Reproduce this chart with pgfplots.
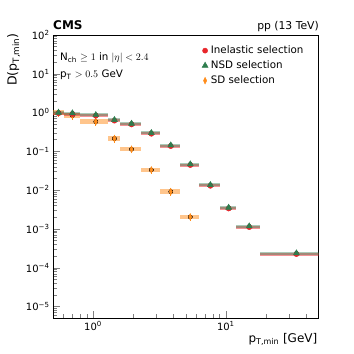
\documentclass[border=0pt]{standalone}
\usepackage{fontspec}
\setmainfont{DejaVu Sans}
\usepackage{pgfplots}
\usepackage{pgfplotstable}
\pgfplotsset{compat=1.18}
\definecolor{cinel}{HTML}{E8262B}
\definecolor{cnsd}{HTML}{2E7D4E}
\definecolor{csd}{HTML}{FF8C1A}

\pgfplotstableread{
x     xm    xp    y
0.55  0.05  0.05  1.0
0.70  0.10  0.10  0.965
1.05  0.25  0.25  0.87
1.45  0.15  0.15  0.65
1.95  0.35  0.35  0.52
2.75  0.45  0.45  0.30
3.85  0.65  0.65  0.144
5.40  0.90  0.90  0.0468
7.65  1.35  1.35  0.0137
10.5  1.50  1.50  0.00356
15.0  3.00  3.00  0.00118
34.0  16.0  16.0  0.000238
}\nsd

\pgfplotstableread{
x     xm    xp    y
0.55  0.05  0.05  0.96
0.70  0.10  0.10  0.92
1.05  0.25  0.25  0.83
1.45  0.15  0.15  0.62
1.95  0.35  0.35  0.495
2.75  0.45  0.45  0.285
3.85  0.65  0.65  0.137
5.40  0.90  0.90  0.0445
7.65  1.35  1.35  0.0130
10.5  1.50  1.50  0.00338
15.0  3.00  3.00  0.00112
34.0  16.0  16.0  0.000226
}\inel

\pgfplotstableread{
x     xm    xp    y
0.55  0.05  0.05  1.0
0.70  0.10  0.10  0.84
1.05  0.25  0.25  0.585
1.45  0.15  0.15  0.214
1.95  0.35  0.35  0.114
2.75  0.45  0.45  0.0334
3.85  0.65  0.65  0.0092
5.40  0.90  0.90  0.00205
}\sd

\begin{document}
\begin{tikzpicture}
\path[use as bounding box] (0pt,0pt) rectangle (354pt,354pt);
\begin{axis}[
  at={(53pt,36pt)}, anchor=south west,
  scale only axis, width=265.7pt, height=283pt,
  xmode=log, ymode=log,
  xmin=0.5, xmax=50, ymin=5.1e-6, ymax=100,
  axis line style={black, line width=0.6pt},
  tick style={gray, line width=0.6pt},
  major tick length=7pt, minor tick length=4pt,
  tick align=inside,
  xtick pos=bottom, ytick pos=left,
  xtick={1,10},
  xticklabels={10\textsuperscript{0},10\textsuperscript{1}},
  minor xtick={0.5,0.6,0.7,0.8,0.9,2,3,4,5,6,7,8,9,20,30,40,50},
  ytick={1e-5,1e-4,1e-3,1e-2,1e-1,1,10,100},
  yticklabels={10\textsuperscript{−5},10\textsuperscript{−4},10\textsuperscript{−3},10\textsuperscript{−2},10\textsuperscript{−1},10\textsuperscript{0},10\textsuperscript{1},10\textsuperscript{2}},
  minor ytick={2e-6,3e-6,4e-6,5e-6,6e-6,7e-6,8e-6,9e-6,
    2e-5,3e-5,4e-5,5e-5,6e-5,7e-5,8e-5,9e-5,
    2e-4,3e-4,4e-4,5e-4,6e-4,7e-4,8e-4,9e-4,
    2e-3,3e-3,4e-3,5e-3,6e-3,7e-3,8e-3,9e-3,
    2e-2,3e-2,4e-2,5e-2,6e-2,7e-2,8e-2,9e-2,
    0.2,0.3,0.4,0.5,0.6,0.7,0.8,0.9,2,3,4,5,6,7,8,9,20,30,40,50,60,70,80,90},
  ticklabel style={font=\fontsize{10}{12}\selectfont},
  legend style={at={(rel axis cs:0.549,0.979)}, anchor=north west, draw=none, fill=none,
    font=\fontsize{10.3}{12}\selectfont, row sep=0pt,
    nodes={text height=7.5pt, text depth=2pt, inner sep=2.75pt}},
  legend cell align=left,
]
% SD bars
\addplot[only marks, mark=none, forget plot,
  error bars/.cd, x dir=both, x explicit, error mark=none,
  error bar style={draw=csd, line width=4.5pt, opacity=0.5}]
  table[x=x, y=y, x error minus=xm, x error plus=xp] {\sd};
% SD vertical errors
\addplot[only marks, mark=none, forget plot,
  error bars/.cd, y dir=both, y fixed relative=0.22, error mark=none,
  error bar style={draw=csd, line width=0.9pt}]
  table[x=x, y=y] {\sd};
% Inelastic bars
\addplot[only marks, mark=none, forget plot,
  error bars/.cd, x dir=both, x explicit, error mark=none,
  error bar style={draw=cinel, line width=3pt, opacity=0.5}]
  table[x=x, y=y, x error minus=xm, x error plus=xp] {\inel};
% NSD bars
\addplot[only marks, mark=none, forget plot,
  error bars/.cd, x dir=both, x explicit, error mark=none,
  error bar style={draw=cnsd, line width=3pt, opacity=0.4}]
  table[x=x, y=y, x error minus=xm, x error plus=xp] {\nsd};
% markers
\addplot[only marks, mark=diamond*, mark size=3.4pt, color=csd,
  mark options={xscale=0.65, draw=none, fill=csd}, forget plot] table[x=x, y=y] {\sd};
\addplot[only marks, mark=*, mark size=2.6pt, color=cinel,
  mark options={draw=none, fill=cinel}, forget plot] table[x=x, y=y] {\inel};
\addplot[only marks, mark=triangle*, mark size=3.5pt, color=cnsd,
  mark options={draw=none, fill=cnsd}, forget plot] table[x=x, y=y] {\nsd};

\addlegendimage{only marks, mark=*, mark size=2.6pt, color=cinel, mark options={draw=none, fill=cinel}}
\addlegendentry{Inelastic selection}
\addlegendimage{only marks, mark=triangle*, mark size=3.5pt, color=cnsd, mark options={draw=none, fill=cnsd}}
\addlegendentry{NSD selection}
\addlegendimage{only marks, mark=diamond*, mark size=3.4pt, color=csd, mark options={xscale=0.65, draw=none, fill=csd}}
\addlegendentry{SD selection}
\end{axis}
% texts
\node[anchor=base west, font=\bfseries\fontsize{12}{14}\selectfont, inner sep=0pt] at (53pt,324pt) {CMS};
\node[anchor=base east, font=\fontsize{10.8}{13}\selectfont, inner sep=0pt] at (319pt,324.5pt) {pp (13 TeV)};
\node[anchor=base west, font=\fontsize{10.3}{12}\selectfont, inner sep=0pt] at (60pt,293.5pt) {N\textsubscript{ch} $\geq 1$ in $|\eta| < 2.4$};
\node[anchor=base west, font=\fontsize{10.3}{12}\selectfont, inner sep=0pt] at (60pt,276pt) {p\textsubscript{T} $> 0.5$ GeV};
\node[anchor=base east, rotate=90, font=\fontsize{12.5}{15}\selectfont, inner sep=0pt] at (16.7pt,321pt) {D(p\textsubscript{T,min})};
\node[anchor=base east, font=\fontsize{12}{14}\selectfont, inner sep=0pt] at (317.5pt,11pt) {p\textsubscript{T,min} [GeV]};
\end{tikzpicture}
\end{document}
